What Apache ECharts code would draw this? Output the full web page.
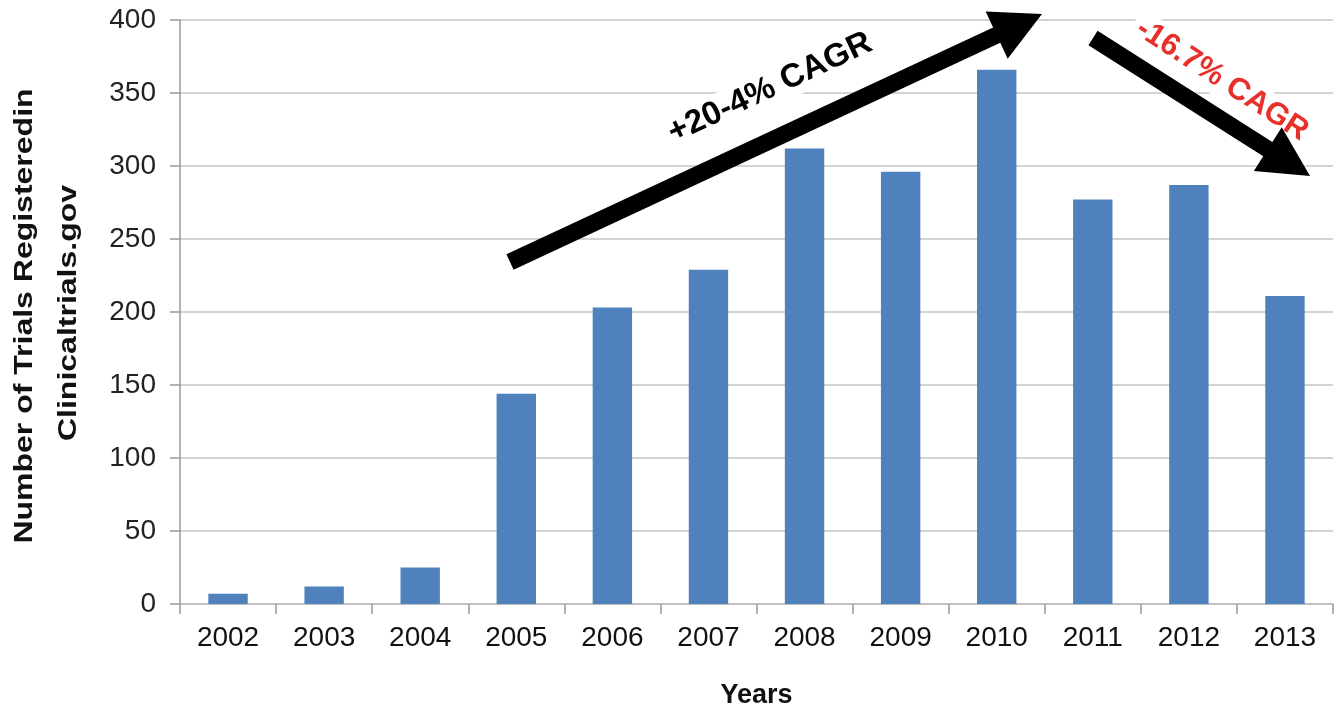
<!DOCTYPE html>
<html><head><meta charset="utf-8">
<script src="https://cdn.jsdelivr.net/npm/echarts@6/dist/echarts.min.js"></script>
<style>html,body{margin:0;padding:0;background:#fff}#c{width:1342px;height:708px}</style>
</head><body><div id="c"></div>
<script>
var years = ['2002','2003','2004','2005','2006','2007','2008','2009','2010','2011','2012','2013'];
var trials = [7, 12, 25, 144, 203, 229, 312, 296, 366, 277, 287, 211];
var yTicks = [0, 50, 100, 150, 200, 250, 300, 350, 400];
var yTitle = ['Number of Trials Registeredin', 'Clinicaltrials.gov'];

function arrowPts(x1, y1, x2, y2, sw, hw, hl) {
  var dx = x2 - x1, dy = y2 - y1, L = Math.sqrt(dx*dx + dy*dy);
  var ux = dx / L, uy = dy / L, px = -uy, py = ux;
  var bx = x2 - ux * hl, by = y2 - uy * hl;
  return [
    [x1 + px*sw/2, y1 + py*sw/2],
    [bx + px*sw/2, by + py*sw/2],
    [bx + px*hw/2, by + py*hw/2],
    [x2, y2],
    [bx - px*hw/2, by - py*hw/2],
    [bx - px*sw/2, by - py*sw/2],
    [x1 - px*sw/2, y1 - py*sw/2]
  ];
}

var chart = echarts.init(document.getElementById('c'));
var FONT = '"Liberation Sans", Arial, sans-serif';
chart.setOption({
  animation: false,
  grid: {left: 180, right: 9, top: 20, bottom: 104, containLabel: false, outerBoundsMode: 'none'},
  xAxis: {
    type: 'category', data: years,
    name: 'Years', nameLocation: 'middle', nameGap: 78,
    nameTextStyle: {fontFamily: FONT, fontSize: 27, fontWeight: 'bold', color: '#111'},
    axisLine: {lineStyle: {color: '#bbb', width: 1.5}},
    axisTick: {show: true, length: 10, lineStyle: {color: '#999', width: 1.5}},
    axisLabel: {fontFamily: FONT, fontSize: 28, color: '#111', margin: 20}
  },
  yAxis: {
    type: 'value', min: 0, max: 400, interval: 50,
    axisLine: {show: true, lineStyle: {color: '#999', width: 1.5}},
    axisTick: {show: true, length: 10, lineStyle: {color: '#999', width: 1.5}},
    axisLabel: {fontFamily: FONT, fontSize: 28, color: '#222', margin: 24,
      formatter: function (v) { return yTicks.indexOf(v) >= 0 ? String(v) : ''; }},
    splitLine: {lineStyle: {color: '#c4c4c4', width: 1.5}}
  },
  series: [{
    type: 'bar', data: trials, barWidth: '41%',
    itemStyle: {color: '#4f81bd'}
  }],
  graphic: [
    {type: 'text', x: 25, y: 316, rotation: Math.PI / 2, scaleY: 0.82,
      style: {text: yTitle[0], fontFamily: FONT, fontSize: 32, fontWeight: 'bold', fill: '#111',
        align: 'center', verticalAlign: 'middle'}},
    {type: 'text', x: 69, y: 313, rotation: Math.PI / 2, scaleY: 0.82,
      style: {text: yTitle[1], fontFamily: FONT, fontSize: 32, fontWeight: 'bold', fill: '#111',
        align: 'center', verticalAlign: 'middle'}},
    {type: 'polygon', z: 100, shape: {points: arrowPts(510, 262, 1042, 14, 17, 52, 50)}, style: {fill: '#000'}},
    {type: 'polygon', z: 100, shape: {points: arrowPts(1093, 38, 1310, 176, 17, 52, 50)}, style: {fill: '#000'}},
    {type: 'text', z: 101, x: 770, y: 88, rotation: 25 * Math.PI / 180,
      style: {text: '+20-4% CAGR', fontFamily: FONT, fontSize: 33, fontWeight: 'bold', fill: '#000',
        align: 'center', verticalAlign: 'middle', backgroundColor: '#fff', padding: [2, 6]}},
    {type: 'text', z: 99, x: 1222, y: 80, rotation: -33 * Math.PI / 180,
      style: {text: '-16.7% CAGR', fontFamily: FONT, fontSize: 31, fontWeight: 'bold', fill: '#e8302a',
        align: 'center', verticalAlign: 'middle', backgroundColor: '#fff', padding: [2, 6]}}
  ]
});
</script></body></html>
